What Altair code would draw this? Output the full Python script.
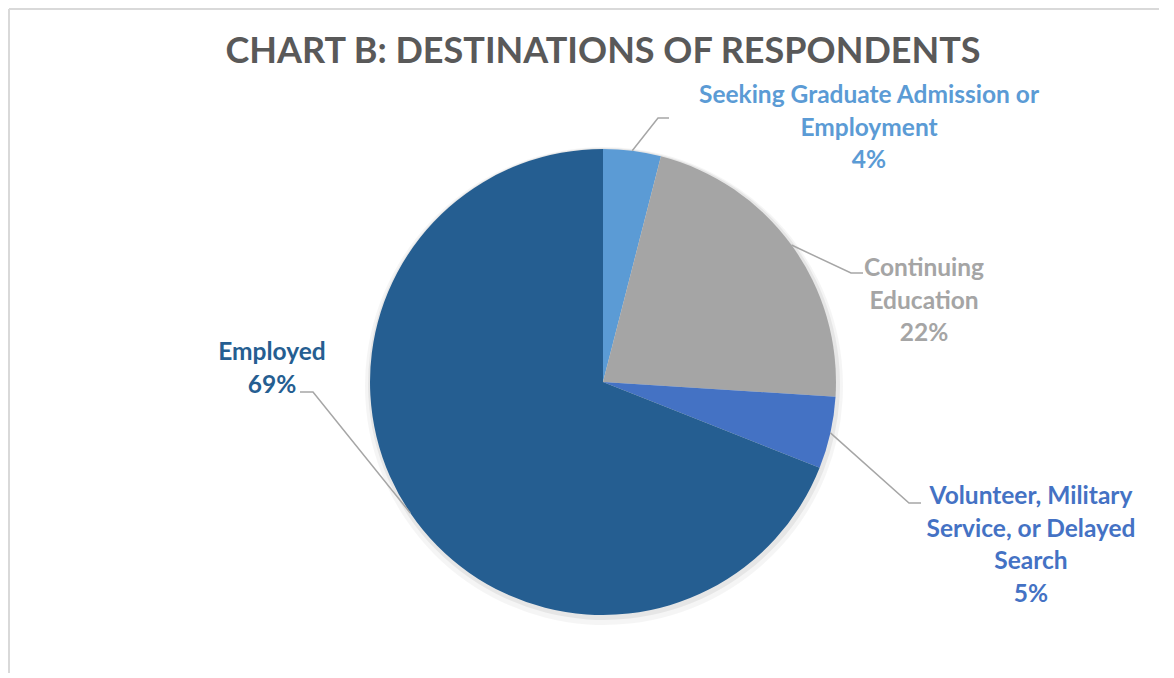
import math
import altair as alt
import pandas as pd

# ---- data ----
categories = [
    "Seeking Graduate Admission or Employment",
    "Continuing Education",
    "Volunteer, Military Service, or Delayed Search",
    "Employed",
]
values = [4, 22, 5, 69]
label_names = [
    "Seeking Graduate Admission or\nEmployment",
    "Continuing\nEducation",
    "Volunteer, Military\nService, or Delayed\nSearch",
    "Employed",
]
colors = ["#5B9BD5", "#A5A5A5", "#4472C4", "#255E91"]
title_text = "CHART B: DESTINATIONS OF RESPONDENTS"

# ---- layout (plot pixel coords) ----
W, H = 1150, 664
CX, CY, R = 594, 373, 233
FONT = "Lato"
label_pos = [(860, 94), (915, 267), (1022, 495), (263, 351)]
elbows = [((649, 109), (660, 109)), ((842, 264), (854, 264)),
          ((900, 494), (912, 494)), ((304, 383), (291, 383))]

df = pd.DataFrame({"cat": categories, "val": values, "idx": list(range(len(values)))})

color_scale = alt.Scale(domain=categories, range=colors)

base = alt.Chart(df)

shadow1 = base.mark_arc(radius=R + 6, color="#000000", opacity=0.04).encode(
    theta=alt.Theta("val:Q", stack=True), order="idx:O",
    x=alt.value(CX + 1), y=alt.value(CY + 4))
shadow2 = base.mark_arc(radius=R + 3, color="#000000", opacity=0.06).encode(
    theta=alt.Theta("val:Q", stack=True), order="idx:O",
    x=alt.value(CX + 1), y=alt.value(CY + 2))

pie = base.mark_arc(radius=R, strokeWidth=0).encode(
    theta=alt.Theta("val:Q", stack=True),
    order=alt.Order("idx:O"),
    color=alt.Color("cat:N", scale=color_scale, legend=None),
    x=alt.value(CX), y=alt.value(CY),
)

# leader lines derived from slice mid-angles
total = sum(values)
rows = []
cum = 0
for i, v in enumerate(values):
    mid = (cum + v / 2) / total * 2 * math.pi
    cum += v
    sx = CX + R * math.sin(mid)
    sy = CY - R * math.cos(mid)
    pts = [(sx, sy), elbows[i][0], elbows[i][1]]
    for k, (px, py) in enumerate(pts):
        rows.append({"cat": categories[i], "k": k, "px": px, "py": py})
lines_df = pd.DataFrame(rows)
leaders = alt.Chart(lines_df).mark_line(color="#A6A6A6", strokeWidth=1.5).encode(
    x=alt.X("px:Q", scale=None), y=alt.Y("py:Q", scale=None),
    detail="cat:N", order="k:O")

lab_df = pd.DataFrame({
    "cat": categories,
    "txt": [f"{n}\n{v}%" for n, v in zip(label_names, values)],
    "lx": [p[0] for p in label_pos],
    "ly": [p[1] for p in label_pos],
})
labels = alt.Chart(lab_df).mark_text(
    font=FONT, fontSize=24.5, fontWeight="bold", lineBreak="\n", lineHeight=32.5,
    align="center", baseline="alphabetic").encode(
    x=alt.X("lx:Q", scale=None), y=alt.Y("ly:Q", scale=None),
    text="txt:N", color=alt.Color("cat:N", scale=color_scale, legend=None))

title = alt.Chart(pd.DataFrame({"t": [title_text]})).mark_text(
    font=FONT, fontSize=36, fontWeight="bold", color="#595959",
    align="center", baseline="alphabetic").encode(
    x=alt.value(CX), y=alt.value(54), text="t:N")

frame_l = alt.Chart(df).mark_rule(color="#D9D9D9", strokeWidth=1.5).encode(
    x=alt.value(0), y=alt.value(0), y2=alt.value(H))
frame_t = alt.Chart(df).mark_rule(color="#D9D9D9", strokeWidth=1.5).encode(
    x=alt.value(0), x2=alt.value(W), y=alt.value(0))

chart = alt.layer(frame_l, frame_t, shadow1, shadow2, pie, leaders, labels, title).properties(
    width=W, height=H, padding=0, background="white"
).configure_view(strokeWidth=0, stroke="transparent")

chart.save("out.html", embed_options={"renderer": "svg", "actions": False})
